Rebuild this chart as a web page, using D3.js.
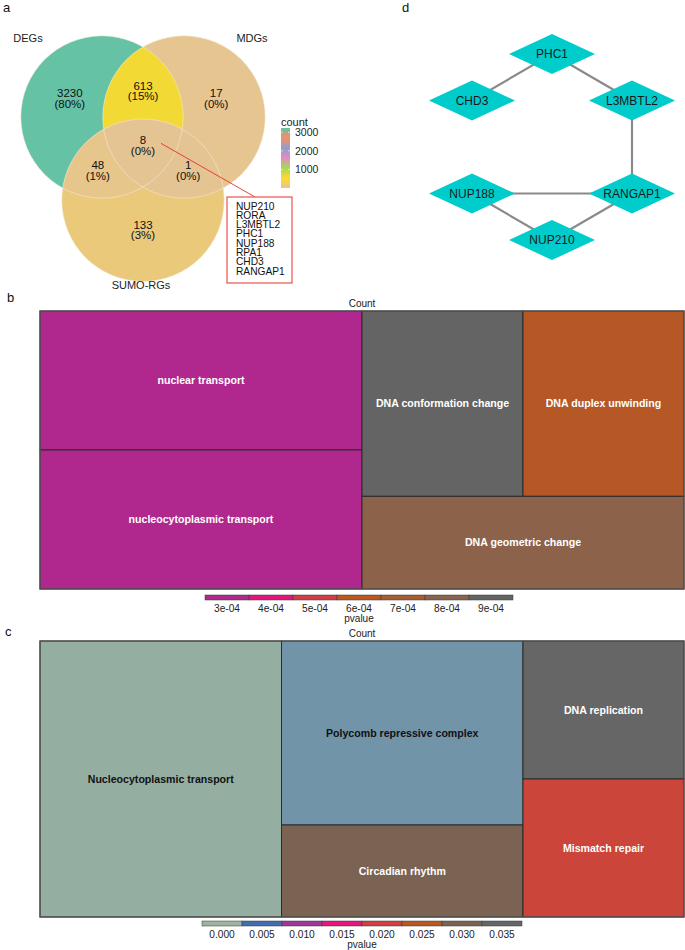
<!DOCTYPE html>
<html>
<head>
<meta charset="utf-8">
<script src="https://cdn.jsdelivr.net/npm/d3@7"></script>
<style>
  body { margin: 0; background: #fff; }
  text { font-family: "Liberation Sans", Arial, sans-serif; }
</style>
</head>
<body>
<div id="chart"></div>
<script>
// ---- panel a : venn ----
var vennSets = ["DEGs", "MDGs", "SUMO-RGs"];
var vennRegionSets = [["DEGs"], ["MDGs"], ["SUMO-RGs"], ["DEGs", "MDGs"], ["DEGs", "SUMO-RGs"], ["MDGs", "SUMO-RGs"], ["DEGs", "MDGs", "SUMO-RGs"]];
var vennCounts = [3230, 17, 133, 613, 48, 1, 8];
var countTicks = [1000, 2000, 3000];
var sharedGenes = ["NUP210", "RORA", "L3MBTL2", "PHC1", "NUP188", "RPA1", "CHD3", "RANGAP1"];

// ---- panel d : network ----
var netNodes = ["PHC1", "CHD3", "L3MBTL2", "NUP188", "RANGAP1", "NUP210"];
var netCol = [1, 0, 2, 0, 2, 1];
var netRow = [0, 1, 1, 3, 3, 4];
var netEdges = [["PHC1", "CHD3"], ["PHC1", "L3MBTL2"], ["L3MBTL2", "RANGAP1"], ["NUP188", "RANGAP1"], ["NUP188", "NUP210"], ["NUP210", "RANGAP1"]];

// ---- panel b : GO treemap ----
var goTerms = ["nuclear transport", "nucleocytoplasmic transport", "DNA conformation change", "DNA duplex unwinding", "DNA geometric change"];
var goCounts = [3, 3, 2, 2, 2];
var goPvalues = [0.00029, 0.00029, 0.00095, 0.000635, 0.00078];
var goGroups = ["1", "1", "2/1", "2/1", "2"];
var goTicks = [0.0003, 0.0004, 0.0005, 0.0006, 0.0007, 0.0008, 0.0009];

// ---- panel c : KEGG treemap ----
var keggTerms = ["Nucleocytoplasmic transport", "Polycomb repressive complex", "Circadian rhythm", "DNA replication", "Mismatch repair"];
var keggCounts = [3, 2, 1, 1, 1];
var keggPvalues = [0.0004, 0.0023, 0.0302, 0.036, 0.0213];
var keggGroups = ["", "1", "1", "2", "2"];
var keggTicks = [0, 0.005, 0.01, 0.015, 0.02, 0.025, 0.03, 0.035];

// colours
var vennPalette = ["#E5C494", "#FFD92F", "#A6D854", "#E78AC3", "#8DA0CB", "#FC8D62", "#66C2A5"];
var goPalette = ["#B0288E", "#E6147A", "#D23C46", "#BE561E", "#A55C32", "#876450", "#646464"];
var keggPalette = ["#9BB5A1", "#3F6EB3", "#A0359A", "#E8157A", "#D33E44", "#B8581E", "#7B6352", "#666666"];

var W = 685, H = 950;
var svg = d3.select("#chart").append("svg")
    .attr("width", W).attr("height", H)
    .style("background", "#fff");

function panelLetter(t, x, y) {
    svg.append("text").attr("x", x).attr("y", y).attr("font-size", 13).attr("fill", "#111").text(t);
}
panelLetter("a", 3, 12);
panelLetter("d", 402, 12);
panelLetter("b", 7, 302);
panelLetter("c", 5, 636);

// ================= venn =================
var unit = d3.scaleLinear().domain([0, 1]).range([0, 41]);
var vOrigin = [143, 117];
var circPos = { "DEGs": [-1, 0], "MDGs": [1, 0], "SUMO-RGs": [0, 2.03] };
var circR = unit(1.98);
function cx(s) { return vOrigin[0] + unit(circPos[s][0]); }
function cy(s) { return vOrigin[1] + unit(circPos[s][1]); }

var vmax = d3.max(vennCounts), vmin = d3.min(vennCounts);
var vennColor = d3.scaleLinear()
    .domain(vennPalette.map(function(d, i) { return vmin + (vmax - vmin) * i / (vennPalette.length - 1); }))
    .range(vennPalette);
var total = d3.sum(vennCounts);

var defs = svg.append("defs");
vennSets.forEach(function(s, i) {
    defs.append("clipPath").attr("id", "clip" + i)
        .append("circle").attr("cx", cx(s)).attr("cy", cy(s)).attr("r", circR);
});

var va = svg.append("g");
vennRegionSets.forEach(function(sets, i) {
    var g = va;
    for (var k = 0; k < sets.length - 1; k++) {
        g = g.append("g").attr("clip-path", "url(#clip" + vennSets.indexOf(sets[k]) + ")");
    }
    var last = sets[sets.length - 1];
    g.append("circle").attr("cx", cx(last)).attr("cy", cy(last)).attr("r", circR)
        .attr("fill", vennColor(vennCounts[i]));
});
va.selectAll(".edge").data(vennSets).enter().append("circle")
    .attr("cx", cx).attr("cy", cy).attr("r", circR)
    .attr("fill", "none").attr("stroke", "#f4ead6").attr("stroke-width", 0.7).attr("opacity", 0.8);

// region centroids by sampling
var sums = vennRegionSets.map(function() { return [0, 0, 0]; });
for (var px = 10; px < 290; px += 1) {
    for (var py = 20; py < 300; py += 1) {
        var inside = vennSets.filter(function(s) {
            return (px - cx(s)) * (px - cx(s)) + (py - cy(s)) * (py - cy(s)) <= circR * circR;
        });
        if (!inside.length) continue;
        var key = inside.join("|");
        var idx = vennRegionSets.findIndex(function(r) { return r.join("|") === key; });
        sums[idx][0] += px; sums[idx][1] += py; sums[idx][2] += 1;
    }
}
var centroids = sums.map(function(s) { return [s[0] / s[2], s[1] / s[2]]; });

vennRegionSets.forEach(function(sets, i) {
    var c = centroids[i];
    var t = va.append("text").attr("text-anchor", "middle").attr("font-size", 11.5).attr("fill", "#111");
    t.append("tspan").attr("x", c[0]).attr("y", c[1] - 3).text(vennCounts[i]);
    t.append("tspan").attr("x", c[0]).attr("y", c[1] + 7.5).text("(" + Math.round(vennCounts[i] / total * 100) + "%)");
});

// set names
va.append("text").attr("x", 28).attr("y", 42).attr("text-anchor", "middle").attr("font-size", 11).attr("fill", "#222").text(vennSets[0]);
va.append("text").attr("x", 252).attr("y", 42).attr("text-anchor", "middle").attr("font-size", 11).attr("fill", "#222").text(vennSets[1]);
va.append("text").attr("x", 141).attr("y", 289).attr("text-anchor", "middle").attr("font-size", 11).attr("fill", "#222").text(vennSets[2]);

// callout box with shared genes
var tri = centroids[6];
var box = { x: 227, y: 197, w: 65, h: 86 };
va.append("line").attr("x1", tri[0] + 18).attr("y1", tri[1] - 4)
    .attr("x2", box.x + 28).attr("y2", box.y)
    .attr("stroke", "#E8302A").attr("stroke-width", 0.9);
va.append("rect").attr("x", box.x).attr("y", box.y).attr("width", box.w).attr("height", box.h)
    .attr("fill", "#fff").attr("stroke", "#E8302A").attr("stroke-width", 1);
va.append("g").selectAll("text").data(sharedGenes).enter().append("text")
    .attr("x", box.x + 9).attr("y", function(d, i) { return box.y + 12.5 + i * 9.3; })
    .attr("font-size", 10.2).attr("fill", "#111").text(function(d) { return d; });

// count colour bar
var cbY = d3.scaleLinear().domain([vmin, vmax]).range([188, 128]);
var grad = defs.append("linearGradient").attr("id", "vgrad").attr("x1", 0).attr("x2", 0).attr("y1", 1).attr("y2", 0);
vennPalette.forEach(function(c, i) {
    grad.append("stop").attr("offset", i / (vennPalette.length - 1)).attr("stop-color", c);
});
va.append("text").attr("x", 281).attr("y", 126).attr("font-size", 11).attr("fill", "#222").text("count");
va.append("rect").attr("x", 281).attr("y", cbY(vmax)).attr("width", 9).attr("height", cbY(vmin) - cbY(vmax))
    .attr("fill", "url(#vgrad)");
countTicks.forEach(function(t) {
    va.append("line").attr("x1", 281).attr("x2", 283).attr("y1", cbY(t)).attr("y2", cbY(t)).attr("stroke", "#fff").attr("stroke-width", 0.6);
    va.append("line").attr("x1", 288).attr("x2", 290).attr("y1", cbY(t)).attr("y2", cbY(t)).attr("stroke", "#fff").attr("stroke-width", 0.6);
    va.append("text").attr("x", 295).attr("y", cbY(t) + 3.8).attr("font-size", 10.5).attr("fill", "#222").text(t);
});

// ================= network =================
var nx = d3.scaleLinear().domain([0, 2]).range([472, 632]);
var ny = d3.scaleLinear().domain([0, 4]).range([54, 240]);
var nodePos = {};
netNodes.forEach(function(n, i) { nodePos[n] = [nx(netCol[i]), ny(netRow[i])]; });
var ng = svg.append("g");
ng.selectAll("line").data(netEdges).enter().append("line")
    .attr("x1", function(d) { return nodePos[d[0]][0]; })
    .attr("y1", function(d) { return nodePos[d[0]][1]; })
    .attr("x2", function(d) { return nodePos[d[1]][0]; })
    .attr("y2", function(d) { return nodePos[d[1]][1]; })
    .attr("stroke", "#8a8a8a").attr("stroke-width", 2.2);
var node = ng.selectAll("g.node").data(netNodes).enter().append("g")
    .attr("transform", function(d) { return "translate(" + nodePos[d][0] + "," + nodePos[d][1] + ")"; });
node.append("path").attr("d", "M-43,0L0,-20L43,0L0,20Z").attr("fill", "#00CCCC");
node.append("text").attr("text-anchor", "middle").attr("y", 4.3).attr("font-size", 12).attr("fill", "#1a1a1a")
    .text(function(d) { return d; });

// ================= treemaps =================
function buildTree(names, counts, groups) {
    var root = { name: "root", children: [] };
    names.forEach(function(n, i) {
        var nd = root;
        if (groups[i] !== "") {
            groups[i].split("/").forEach(function(p) {
                var c = nd.children.find(function(ch) { return ch.name === "g" + p; });
                if (!c) { c = { name: "g" + p, children: [] }; nd.children.push(c); }
                nd = c;
            });
        }
        nd.children.push({ name: n, value: counts[i], idx: i });
    });
    return root;
}

function drawTreemap(names, counts, pvals, groups, ticks, palette, fmt, box, legend) {
    var color = d3.scaleLinear().domain(ticks).range(palette).clamp(true);
    var root = d3.hierarchy(buildTree(names, counts, groups)).sum(function(d) { return d.value || 0; });
    d3.treemap().size([box.w, box.h]).tile(d3.treemapSliceDice)(root);

    var g = svg.append("g").attr("transform", "translate(" + box.x + "," + box.y + ")");
    svg.append("text").attr("x", box.x + box.w / 2).attr("y", box.y - 4.5).attr("text-anchor", "middle")
        .attr("font-size", 10).attr("fill", "#222").text("Count");
    var leaf = g.selectAll("g.leaf").data(root.leaves()).enter().append("g");
    leaf.append("rect")
        .attr("x", function(d) { return d.x0; }).attr("y", function(d) { return d.y0; })
        .attr("width", function(d) { return d.x1 - d.x0; }).attr("height", function(d) { return d.y1 - d.y0; })
        .attr("fill", function(d) { return color(pvals[d.data.idx]); })
        .attr("stroke", "#2b2b2b").attr("stroke-width", 1);
    leaf.append("text")
        .attr("x", function(d) { return (d.x0 + d.x1) / 2; })
        .attr("y", function(d) { return (d.y0 + d.y1) / 2 + 3.8; })
        .attr("text-anchor", "middle").attr("font-size", 10.6).attr("font-weight", "bold")
        .attr("fill", function(d) { return d3.hcl(color(pvals[d.data.idx])).l > 55 ? "#111" : "#fff"; })
        .text(function(d) { return d.data.name; });
    g.append("rect").attr("width", box.w).attr("height", box.h)
        .attr("fill", "none").attr("stroke", "#555").attr("stroke-width", 1.2);

    // legend
    var lx = d3.scaleBand().domain(ticks).range([legend.x0, legend.x1]);
    var lg = svg.append("g");
    lg.selectAll("rect").data(ticks).enter().append("rect")
        .attr("x", function(d) { return lx(d); }).attr("y", legend.y)
        .attr("width", lx.bandwidth()).attr("height", 5)
        .attr("fill", function(d, i) { return palette[i]; })
        .attr("stroke", "#3a3a3a").attr("stroke-width", 0.5);
    lg.selectAll("text.tk").data(ticks).enter().append("text")
        .attr("x", function(d) { return lx(d) + lx.bandwidth() / 2; })
        .attr("y", legend.y + 17)
        .attr("text-anchor", "middle").attr("font-size", 10.2).attr("fill", "#222")
        .text(fmt);
    lg.append("text").attr("x", (legend.x0 + legend.x1) / 2).attr("y", legend.y + 26.5)
        .attr("text-anchor", "middle").attr("font-size", 10).attr("fill", "#222").text("pvalue");
}

function sci(v) {
    return v.toExponential(0).replace(/e([+-])(\d)$/, "e$10$2");
}

drawTreemap(goTerms, goCounts, goPvalues, goGroups, goTicks, goPalette, sci,
    { x: 40, y: 311, w: 644, h: 278 }, { x0: 205, x1: 513, y: 595 });
drawTreemap(keggTerms, keggCounts, keggPvalues, keggGroups, keggTicks, keggPalette, d3.format(".3f"),
    { x: 40, y: 641, w: 644, h: 276 }, { x0: 202, x1: 522, y: 921 });
</script>
</body>
</html>
